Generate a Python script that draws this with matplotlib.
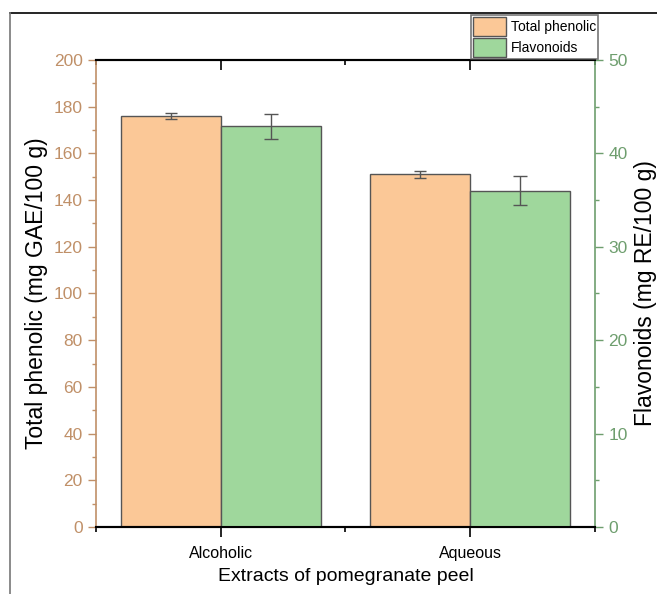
import numpy as np
import matplotlib.pyplot as plt
from matplotlib.lines import Line2D
from matplotlib.ticker import MultipleLocator

categories = ["Alcoholic", "Aqueous"]
phenolic = [176.0, 151.0]
phenolic_err = [1.4, 1.5]
flavonoids = [42.9, 36.0]
flavonoids_err = [1.35, 1.55]

plt.rcParams['font.family'] = ['Liberation Sans', 'DejaVu Sans']

tan = '#C09068'
green = '#6E9E6E'
orange_fill = '#FBC897'
green_fill = '#9FD79C'
edge = '#555555'

fig = plt.figure(figsize=(6.57, 5.94), dpi=100)
ax = fig.add_axes([0.1461, 0.1128, 0.7595, 0.7862])
ax2 = ax.twinx()

x = np.arange(1, len(categories) + 1)
w = 0.4
ax.bar(x - w / 2, phenolic, w, color=orange_fill, edgecolor=edge, linewidth=1.0,
       label='Total phenolic', zorder=2)
ax.errorbar(x - w / 2, phenolic, yerr=phenolic_err, fmt='none', ecolor='#555555',
            elinewidth=1.0, capsize=4, capthick=1.0, zorder=3)
ax2.bar(x + w / 2, flavonoids, w, color=green_fill, edgecolor=edge, linewidth=1.0,
        label='Flavonoids', zorder=2)
ax2.errorbar(x + w / 2, flavonoids, yerr=flavonoids_err, fmt='none', ecolor='#555555',
             elinewidth=1.0, capsize=5, capthick=1.0, zorder=3)

ax.set_xlim(0.5, 2.5)
ax.set_ylim(0, 200)
ax2.set_ylim(0, 50)
ax.set_xticks(x)
ax.set_xticklabels(categories, fontsize=11.5)
ax.xaxis.set_minor_locator(MultipleLocator(0.5))
ax.yaxis.set_major_locator(MultipleLocator(20))
ax.yaxis.set_minor_locator(MultipleLocator(10))
ax2.yaxis.set_major_locator(MultipleLocator(10))
ax2.yaxis.set_minor_locator(MultipleLocator(5))

ax.tick_params(axis='x', which='major', direction='out', length=7, width=1.2,
               top=True, colors='black', pad=7)
ax.tick_params(axis='x', which='minor', direction='out', length=3.5, width=1.2, top=True)
ax.tick_params(axis='y', which='major', direction='out', length=6, width=1.0,
               colors=tan, labelsize=12.5)
ax.tick_params(axis='y', which='minor', direction='out', length=3, width=1.0, colors=tan)
ax2.tick_params(axis='y', which='major', direction='out', length=6, width=1.0,
                colors=green, labelsize=12.5)
ax2.tick_params(axis='y', which='minor', direction='out', length=3, width=1.0, colors=green)

for a in (ax, ax2):
    a.spines['top'].set_linewidth(1.5)
    a.spines['bottom'].set_linewidth(1.5)
ax.spines['left'].set_color(tan)
ax.spines['left'].set_linewidth(1.2)
ax2.spines['left'].set_visible(False)
ax2.spines['right'].set_color(green)
ax2.spines['right'].set_linewidth(1.2)
ax.spines['right'].set_visible(False)

# top ticks point inward on the top spine
for t in ax.xaxis.get_major_ticks() + ax.xaxis.get_minor_ticks():
    t.tick2line.set_marker(3)

ax.set_ylabel('Total phenolic (mg GAE/100 g)', fontsize=16.5, labelpad=4)
ax2.set_ylabel('Flavonoids (mg RE/100 g)', fontsize=16.5, labelpad=5, rotation=90)
ax.set_xlabel('Extracts of pomegranate peel', fontsize=14, labelpad=5)

h1, l1 = ax.get_legend_handles_labels()
h2, l2 = ax2.get_legend_handles_labels()
leg = fig.legend(h1 + h2, l1 + l2, loc='upper right', bbox_to_anchor=(0.910, 0.975),
                 fontsize=10, frameon=True, fancybox=False,
                 edgecolor='#555555', handlelength=2.4, handleheight=1.75, borderpad=0.15,
                 labelspacing=0.1, handletextpad=0.3, borderaxespad=0)
leg.get_frame().set_linewidth(1.2)

# outer frame lines
fig.add_artist(Line2D([10 / 657, 1.0], [1 - 13 / 594, 1 - 13 / 594], color='black',
                      linewidth=1.2, transform=fig.transFigure))
fig.add_artist(Line2D([10 / 657, 10 / 657], [0, 1 - 13 / 594], color='#777777',
                      linewidth=1.2, transform=fig.transFigure))

fig.savefig('out.png', dpi=100)
